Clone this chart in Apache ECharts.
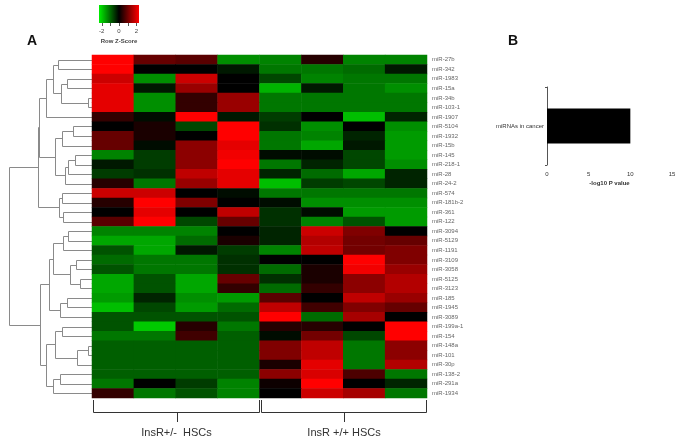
<!DOCTYPE html>
<html><head><meta charset="utf-8">
<script src="https://cdn.jsdelivr.net/npm/echarts@6/dist/echarts.min.js"></script>
<style>html,body{margin:0;padding:0;background:#fff}#c{width:679px;height:440px}</style>
</head><body><div id="c"></div>
<script>
// ---------- DATA ----------
const rowLabels = ['miR-27b','miR-342','miR-1983','miR-15a','miR-34b','miR-103-1','miR-1907','miR-5104','miR-1932','miR-15b','miR-145','miR-218-1','miR-28','miR-24-2','miR-574','miR-181b-2','miR-361','miR-122','miR-3094','miR-5129','miR-1191','miR-3109','miR-3058','miR-5125','miR-3123','miR-185','miR-1945','miR-3089','miR-199a-1','miR-154','miR-148a','miR-101','miR-30p','miR-138-2','miR-291a','miR-1934'];
const sampleNames = ['Het-1','Het-2','Het-3','Het-4','WT-1','WT-2','WT-3','WT-4'];
const zScores = [
  [2.0, 0.8, 0.7,-1.2,-1.1, 0.3,-1.1,-1.1],
  [2.0, 0.0, 0.0,-0.2,-1.0,-1.0,-0.9,-0.2],
  [1.6,-1.2, 1.6, 0.0,-0.6,-1.1,-1.0,-1.0],
  [1.8,-0.2, 1.2, 0.0,-1.5,-0.2,-1.0,-1.2],
  [1.8,-1.2, 0.4, 1.2,-1.0,-1.0,-1.0,-1.0],
  [1.8,-1.2, 0.4, 1.2,-1.0,-1.0,-1.0,-1.0],
  [0.4,-0.1, 2.0,-0.2,-0.5, 0.0,-1.6,-0.3],
  [0.0, 0.2,-0.6, 2.0,-0.4,-1.2, 0.0,-1.2],
  [0.8, 0.2, 0.0, 2.0,-1.0,-1.1,-0.3,-1.3],
  [0.8,-0.1, 1.1, 1.8,-1.0,-1.4,-0.2,-1.3],
  [-1.1,-0.5,1.1, 1.9,-0.1,-0.1,-0.6,-1.3],
  [-0.2,-0.5,1.1, 2.0,-1.0,-0.3,-0.6,-1.2],
  [-0.5,-0.4,1.5, 1.8,-0.3,-0.9,-1.4,-0.3],
  [0.3,-1.0, 1.2, 1.8,-1.6,-0.5,-0.6,-0.3],
  [1.6, 1.6, 0.0,-0.1,-1.0,-1.0,-1.0,-1.0],
  [0.3, 2.0, 1.0, 0.0,-0.1,-1.2,-1.2,-1.2],
  [0.0, 1.8, 0.0, 1.5,-0.4,-0.1,-1.3,-1.3],
  [0.7, 2.0,-0.6, 0.8,-0.4,-1.1,-0.7,-1.3],
  [-1.1,-1.1,-1.1,0.0,-0.3, 1.6, 1.0, 0.0],
  [-1.4,-1.4,-0.9,0.2,-0.3, 1.4, 0.9, 0.8],
  [-0.7,-1.4,-0.2,-0.5,-1.1,1.5, 0.9, 1.0],
  [-0.9,-1.0,-1.0,-0.4,0.0, 0.0, 2.0, 1.0],
  [-0.7,-1.0,-1.0,-0.4,-0.9,0.2, 1.9, 1.2],
  [-1.4,-0.7,-1.4,0.8,-0.4, 0.2, 1.1, 1.4],
  [-1.4,-0.7,-1.4,0.4,-0.9, 0.4, 1.1, 1.4],
  [-1.3,-0.3,-1.2,-1.3,0.7, 0.0, 1.5, 1.2],
  [-1.6,-0.6,-1.3,-0.9,1.5, 0.5, 1.0, 0.8],
  [-0.7,-0.7,-0.7,-0.7,2.0,-0.9, 1.3, 0.0],
  [-0.7,-1.7,0.3,-1.0, 0.3, 0.3, 0.0, 2.0],
  [-1.0,-1.0,0.5,-0.8,-0.1, 0.9,-0.6, 2.0],
  [-0.8,-0.8,-0.8,-0.8,1.0, 1.5,-1.0, 1.1],
  [-0.8,-0.8,-0.8,-0.8,1.0, 1.5,-1.0, 1.1],
  [-0.8,-0.8,-0.8,-0.8,0.2, 1.8,-1.0, 1.4],
  [-0.8,-0.8,-0.8,-0.8,1.1, 1.7, 0.6,-1.0],
  [-1.0, 0.0,-0.5,-1.1,0.1, 2.0, 0.0,-0.3],
  [0.4,-1.0,-0.7,-1.1, 0.0, 1.6, 1.3,-1.0]
];
// hclust-style merges: [left, right, height]; negative = leaf row (1-based), positive = earlier merge (1-based)
const merges = [
  [-1,-2,33.7],[-3,-4,25.3],[-5,-6,3.7],[2,3,31],[1,4,39.3],[5,-7,46],
  [-8,-9,19.3],[7,-10,30.3],[-11,-12,17],[9,-13,23.7],[10,-14,27],[8,11,37],
  [-15,-16,30.3],[-17,-18,28.7],[13,14,32.7],[6,12,52.7],[16,15,53.7],
  [-19,-20,23.7],[18,-21,29.3],[-22,-23,16],[-24,-25,12],[20,21,22],[19,22,38.7],
  [-26,-27,25.3],[24,-28,32],[23,25,42.7],
  [-31,-32,3.7],[27,-33,15],[-29,-30,30],[29,28,37],
  [-34,-35,32],[31,-36,38.7],[30,32,46],[26,33,52],[17,34,82.7]
];
const groups = [['InsR+/-  HSCs',0,3],['InsR +/+ HSCs',4,7]];
const zRange = [-2,2];
const keyTickValues = [-2,-1,0,1,2];
const keyLabelValues = [-2,0,2];
const heatColors = ['#00ee00','#000000','#ff0000'];
const barCategories = ['miRNAs in cancer'];
const barValues = [10];
const barAxisMax = 15, barAxisInterval = 5;

// ---------- BUILD ----------
const heatData = [];
zScores.forEach((r,ri)=>r.forEach((v,ci)=>heatData.push([ci,ri,v])));

const nodeY = [], nodeH = [];
function pos(id){ return id<0 ? [(-id)-0.5, 0] : [nodeY[id-1], nodeH[id-1]]; }
const dendroData = merges.map((m,i)=>{
  const L = pos(m[0]), R = pos(m[1]);
  nodeY[i] = (L[0]+R[0])/2; nodeH[i] = m[2];
  return [m[2], L[0], L[1], R[0], R[1]];
});

const chart = echarts.init(document.getElementById('c'), null, {renderer:'canvas'});
const FONT = 'Liberation Sans, Arial, sans-serif';

// colour key geometry
const keyX = 99, keyY = 5, keyW = 40, keyH = 18, keyPad = 2.7;
const keyMap = v => keyX + keyPad + (v - zRange[0])/(zRange[1]-zRange[0])*(keyW-2*keyPad);
const keyGraphics = [
  {type:'rect', shape:{x:keyX,y:keyY,width:keyW,height:keyH},
   style:{fill:new echarts.graphic.LinearGradient(0,0,1,0,heatColors.map((c,i)=>({offset:i/(heatColors.length-1),color:c})))}}
];
keyTickValues.forEach(v=>keyGraphics.push({type:'line',shape:{x1:Math.round(keyMap(v))+0.5,y1:keyY+keyH,x2:Math.round(keyMap(v))+0.5,y2:keyY+keyH+3},style:{stroke:'#555',lineWidth:1}}));
keyLabelValues.forEach(v=>keyGraphics.push({type:'text',x:keyMap(v),y:31,style:{text:String(v),fontSize:6,fill:'#444',align:'center',verticalAlign:'middle',fontFamily:FONT}}));
keyGraphics.push({type:'text',x:keyX+keyW/2,y:41,style:{text:'Row Z-Score',fontSize:6,fill:'#444',align:'center',verticalAlign:'middle',fontFamily:FONT,fontWeight:'bold'}});

const option = {
  backgroundColor:'#fff',
  animation:false,
  textStyle:{fontFamily:FONT},
  title:[
    {text:'A', left:27, top:34, padding:0, textStyle:{fontSize:14, fontWeight:'bold', color:'#111', fontFamily:FONT}},
    {text:'B', left:508, top:34, padding:0, textStyle:{fontSize:14, fontWeight:'bold', color:'#111', fontFamily:FONT}}
  ],
  graphic: keyGraphics,
  grid:[
    {left:8, top:55, width:84, height:343},
    {left:92, top:55, width:335, height:343},
    {left:547, top:87, width:125, height:78}
  ],
  xAxis:[
    {gridIndex:0, type:'value', min:0, max:84, inverse:true, show:false},
    {gridIndex:1, type:'category', data:sampleNames, show:false},
    {gridIndex:2, type:'value', min:0, max:barAxisMax, interval:barAxisInterval,
     axisLine:{show:false}, axisTick:{show:false}, splitLine:{show:false},
     axisLabel:{fontSize:6, color:'#333', margin:6},
     name:'-log10 P value', nameLocation:'middle', nameGap:15,
     nameTextStyle:{fontSize:6, color:'#333', fontWeight:'bold'}}
  ],
  yAxis:[
    {gridIndex:0, type:'value', min:0, max:rowLabels.length, inverse:true, show:false},
    {gridIndex:1, type:'category', data:rowLabels, inverse:true, position:'right',
     axisLine:{show:false}, axisTick:{show:false},
     axisLabel:{fontSize:6, color:'#666', margin:5, interval:0}},
    {gridIndex:2, type:'category', data:barCategories,
     axisLine:{show:true, lineStyle:{color:'#555', width:1}},
     axisTick:{show:true, length:2, lineStyle:{color:'#555'}},
     axisLabel:{fontSize:6, color:'#333', margin:3}}
  ],
  visualMap:{show:false, min:zRange[0], max:zRange[1], seriesIndex:1, inRange:{color:heatColors}},
  series:[
    {type:'custom', xAxisIndex:0, yAxisIndex:0, data:dendroData, clip:false,
     encode:{x:[0,2,4], y:[1,3]},
     renderItem:(params, api)=>{
       const h=api.value(0), yl=api.value(1), hl=api.value(2), yr=api.value(3), hr=api.value(4);
       const pts=[api.coord([hl,yl]),api.coord([h,yl]),api.coord([h,yr]),api.coord([hr,yr])]
         .map(p=>[Math.round(p[0])+0.5, Math.round(p[1])+0.5]);
       return {type:'polyline', shape:{points:pts}, style:{stroke:'#8a8a8a', lineWidth:1, fill:'none'}};
     }},
    {type:'heatmap', xAxisIndex:1, yAxisIndex:1, data:heatData, itemStyle:{borderWidth:0}},
    {type:'custom', xAxisIndex:1, yAxisIndex:1, data:groups.map(g=>[g[1],g[2],g[0]]), clip:false,
     renderItem:(params, api)=>{
       const cs = params.coordSys;
       const bw = api.size([1,0])[0];
       const x1 = Math.round(api.coord([api.value(0),0])[0] - bw/2) + 1.5;
       const x2 = Math.round(api.coord([api.value(1),0])[0] + bw/2) - 0.5;
       const xm = Math.round((x1+x2)/2) + 0.5;
       const yb = cs.y + cs.height;
       const y0 = yb + 2, y1 = Math.round(yb + 14) + 0.5, y2 = yb + 24;
       const ls = {stroke:'#333', lineWidth:1, fill:'none'};
       return {type:'group', children:[
         {type:'polyline', shape:{points:[[x1,y0],[x1,y1],[x2,y1],[x2,y0]]}, style:ls},
         {type:'line', shape:{x1:xm,y1:y1,x2:xm,y2:y2}, style:ls},
         {type:'text', x:(x1+x2)/2, y:yb+35, style:{text:api.value(2), fontSize:11, fill:'#333', align:'center', verticalAlign:'middle', fontFamily:FONT}}
       ]};
     }},
    {type:'bar', xAxisIndex:2, yAxisIndex:2, data:barValues, barWidth:35, itemStyle:{color:'#000'}}
  ]
};
chart.setOption(option);
</script></body></html>
